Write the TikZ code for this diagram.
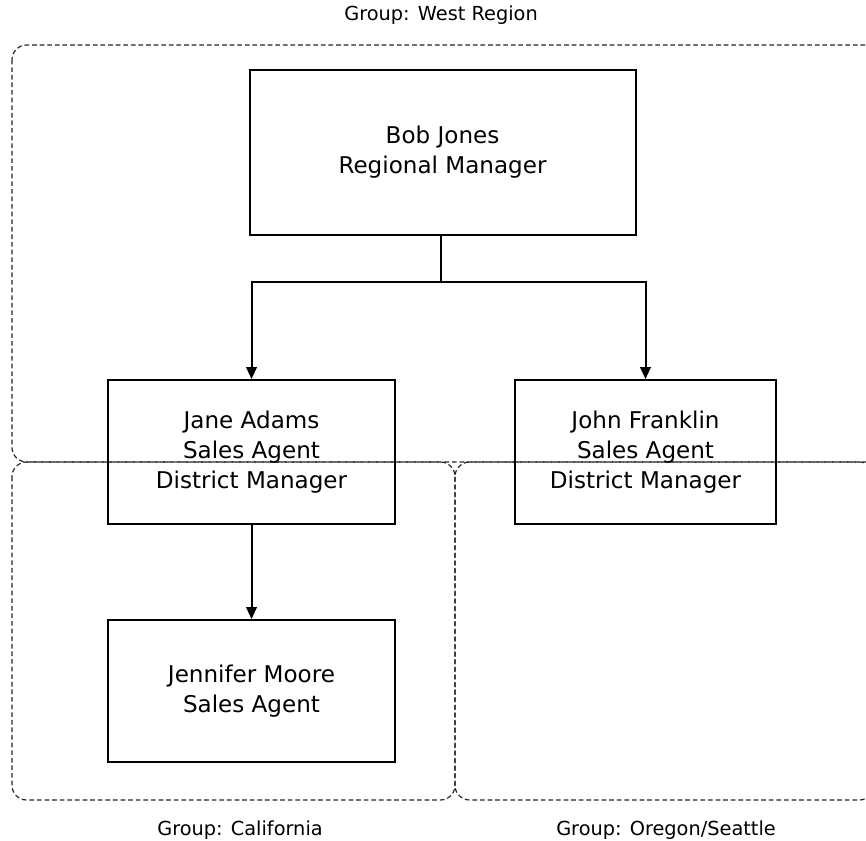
\documentclass[tikz,border=0pt]{standalone}
\usepackage{fontspec}
\setmainfont{DejaVu Sans}
\usetikzlibrary{arrows.meta}
\begin{document}
\begin{tikzpicture}[x=0.75pt,y=-0.75pt,
  person/.style={draw=black,line width=1.5pt,fill=none,inner sep=0pt,align=center,
    font=\fontsize{17.3pt}{22.5pt}\selectfont},
  group/.style={draw=black!85,line width=0.9pt,dash pattern=on 3.5pt off 2.2pt,rounded corners=11pt},
  grouplabel/.style={font=\fontsize{14.5pt}{16pt}\selectfont,inner sep=0pt},
  link/.style={draw=black,line width=1.5pt},
  arrowlink/.style={link,-{Triangle[length=9pt,width=8pt]}}]
\useasboundingbox (0,0) rectangle (866,841);
\fill[white] (0,0) rectangle (866,841);
\begin{scope}
\clip (0,0) rectangle (866,841);
\draw[group] (12,45) rectangle (882,462);
\draw[group] (12,462) rectangle (455,800);
\draw[group] (455,462) rectangle (874,800);
\end{scope}
\node[grouplabel] (lwest) at (441,15) {Group: West Region};
\node[grouplabel] (lcal) at (240,830) {Group: California};
\node[grouplabel] (lore) at (666,830) {Group: Oregon/Seattle};

\node[person,minimum width=289.5pt,minimum height=123.75pt] (bob) at (442.5,152.5) {Bob Jones\\Regional Manager};
\node[person,minimum width=215.25pt,minimum height=108pt] (jane) at (251.5,452) {Jane Adams\\Sales Agent\\District Manager};
\node[person,minimum width=195.75pt,minimum height=108pt] (john) at (645.5,452) {John Franklin\\Sales Agent\\District Manager};
\node[person,minimum width=215.25pt,minimum height=106.5pt] (jen) at (251.5,691) {Jennifer Moore\\Sales Agent};

\coordinate (split) at (441,282);
\draw[link] (bob.south -| split) -- (split);
\draw[arrowlink] (split) -| (jane.north);
\draw[arrowlink] (split) -| (john.north);
\draw[arrowlink] (jane.south) -- (jen.north);
\end{tikzpicture}
\end{document}
